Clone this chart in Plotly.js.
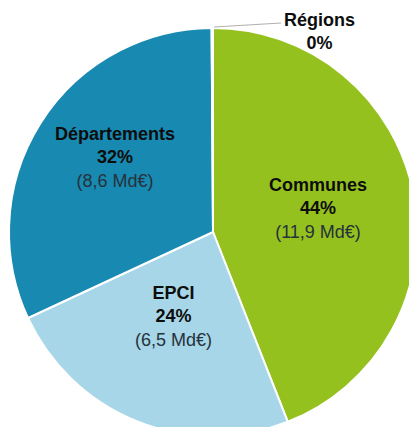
<!DOCTYPE html>
<html>
<head>
<meta charset="utf-8">
<script src="https://cdn.plot.ly/plotly-3.0.1.min.js"></script>
<style>
html, body { margin: 0; padding: 0; overflow: hidden; background: #fff; }
#chart { width: 430px; height: 450px; }
</style>
</head>
<body>
<div id="chart"></div>
<script>
// Data
const categories = ["Communes", "EPCI", "Départements", "Régions"];
const amountsMdEur = [11.9, 6.5, 8.6, 0.03];
const percentLabels = ["44%", "24%", "32%", "0%"];
const amountLabels = ["11,9", "6,5", "8,6", ""];
const sliceColors = ["#95c11f", "#a6d6e7", "#1889b0", "#ffffff"];

// Layout (pixel geometry of the figure)
const W = 430, H = 450;
const cx = 213, cy = 232, R = 204;
const px = x => x / W;
const py = y => 1 - y / H;
const labelCenters = [[318, 208], [173, 316], [115, 157], [319, 31]];

const annotations = categories.map((c, i) => {
  let text = "<b>" + c + "</b><br><b>" + percentLabels[i] + "</b>";
  if (amountLabels[i]) {
    text += "<br><span style='color:#26323c'>(" + amountLabels[i] + " Md€)</span>";
  }
  return {
    xref: "paper", yref: "paper",
    x: px(labelCenters[i][0]), y: py(labelCenters[i][1]),
    xanchor: "center", yanchor: "middle",
    showarrow: false,
    text: text,
    font: { family: "Liberation Sans, Arial, sans-serif", size: 18, color: "#0d0d0d" }
  };
});

const trace = {
  type: "pie",
  labels: categories,
  values: amountsMdEur,
  sort: false,
  direction: "clockwise",
  rotation: 0,
  textinfo: "none",
  hoverinfo: "none",
  marker: { colors: sliceColors, line: { color: "#ffffff", width: 2 } },
  domain: { x: [px(cx - R), px(cx + R)], y: [py(cy + R), py(cy - R)] },
  showlegend: false
};

const layout = {
  width: W, height: H,
  margin: { l: 0, r: 0, t: 0, b: 0 },
  paper_bgcolor: "#ffffff",
  showlegend: false,
  annotations: annotations,
  shapes: [{
    type: "line", xref: "paper", yref: "paper",
    x0: px(214), y0: py(27), x1: px(281), y1: py(23),
    line: { color: "#b0b0b0", width: 1.2 }
  }]
};

Plotly.newPlot("chart", [trace], layout, { staticPlot: true, displayModeBar: false });
</script>
</body>
</html>
